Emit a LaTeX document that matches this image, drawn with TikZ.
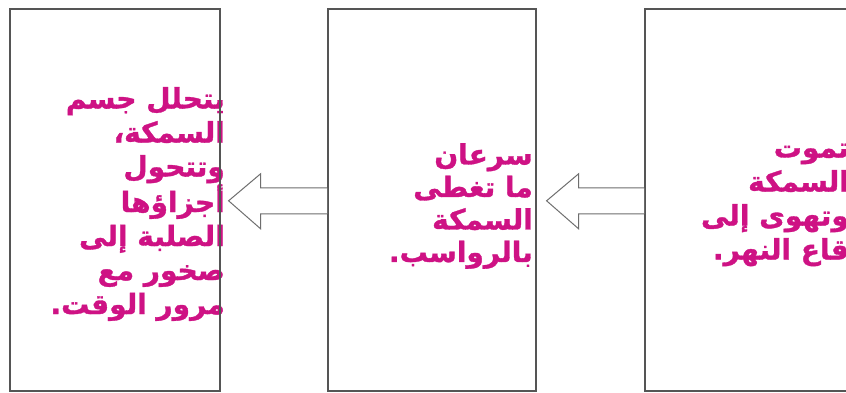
\documentclass[tikz,border=0pt]{standalone}
\usepackage{fontspec}
\newfontfamily\arabicfont[Script=Arabic, BoldFeatures={FakeBold=1.2}]{DejaVu Sans}
\TeXXeTstate=1
\usetikzlibrary{calc}
\definecolor{inkmag}{RGB}{206,18,132}
\definecolor{framegray}{RGB}{85,85,85}
\definecolor{arrowgray}{RGB}{110,110,110}
\tikzset{
  panel/.style={draw=framegray, line width=1.6pt, minimum width=#1, minimum height=382pt,
    anchor=north west, inner sep=0pt},
  steptext/.style={text=inkmag, font=\arabicfont\bfseries\fontsize{28}{#1}\selectfont,
    align=right, inner sep=0pt, anchor=east},
  steptext/.default=34,
  hollow/.style={draw=arrowgray, line width=1pt, fill=white, line join=miter}
}
\begin{document}
\begin{tikzpicture}[x=1pt, y=-1pt]
  \useasboundingbox (0,0) rectangle (846,393);
  \clip (0,0) rectangle (846,393);
  \fill[white] (0,0) rectangle (846,393);

  % stage texts (set first so the panel frames run over them)
  \node[steptext] (s1) at (225,204) {%
    \beginR يتحلل جسم\endR\\
    \beginR السمكة،\endR\\
    \beginR وتتحول\endR\\
    \beginR أجزاؤها\endR\\
    \beginR الصلبة إلى\endR\\
    \beginR صخور مع\endR\\
    \beginR مرور الوقت.\endR};
  \node[steptext=32.5] (s2) at (533,206) {%
    \beginR سرعان\endR\\
    \beginR ما تغطى\endR\\
    \beginR السمكة\endR\\
    \beginR بالرواسب.\endR};
  \node[steptext] (s3) at (849,205) {%
    \beginR تموت\endR\\
    \beginR السمكة\endR\\
    \beginR وتهوى إلى\endR\\
    \beginR قاع النهر.\endR};

  % three stage panels, read right to left
  \node[panel=210pt] (b1) at (9,8) {};
  \node[panel=208pt] (b2) at (327,8) {};
  \node[panel=220pt] (b3) at (644,8) {};

  % hollow block arrows pointing from one stage to the previous panel on the left
  \coordinate (t1) at ($(b1.east)+(8,1)$);
  \draw[hollow] ($(b2.west)+(0,-12)$) -- ($(t1)+(32,-13)$) -- ($(t1)+(32,-27)$) -- (t1)
    -- ($(t1)+(32,28)$) -- ($(t1)+(32,13)$) -- ($(b2.west)+(0,14)$);
  \coordinate (t2) at ($(b2.east)+(10,1)$);
  \draw[hollow] ($(b3.west)+(0,-12)$) -- ($(t2)+(32,-13)$) -- ($(t2)+(32,-27)$) -- (t2)
    -- ($(t2)+(32,28)$) -- ($(t2)+(32,13)$) -- ($(b3.west)+(0,14)$);
\end{tikzpicture}
\end{document}
